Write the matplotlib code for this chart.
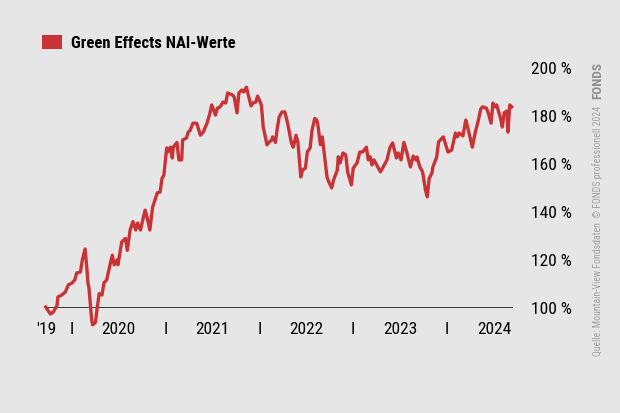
import matplotlib
matplotlib.use("Agg")
import matplotlib.pyplot as plt
from matplotlib.patches import Patch
from matplotlib import font_manager

# ------------------------------
# DATA
# ------------------------------

dates = [
    2019.72, 2019.77, 2019.80, 2019.84, 2019.85, 2019.89, 2019.93, 2019.96,
    2020.00, 2020.03, 2020.05, 2020.09, 2020.11, 2020.14, 2020.16, 2020.17,
    2020.18, 2020.21, 2020.22, 2020.25, 2020.27, 2020.29, 2020.32, 2020.34,
    2020.37, 2020.41, 2020.43, 2020.45, 2020.48, 2020.49, 2020.53, 2020.57,
    2020.59, 2020.62, 2020.65, 2020.68, 2020.70, 2020.73, 2020.78, 2020.80,
    2020.83, 2020.86, 2020.91, 2020.94, 2020.96, 2020.98, 2021.01, 2021.02,
    2021.05, 2021.07, 2021.08, 2021.12, 2021.14, 2021.17, 2021.18, 2021.22,
    2021.24, 2021.26, 2021.29, 2021.33, 2021.37, 2021.40, 2021.44, 2021.47,
    2021.49, 2021.53, 2021.55, 2021.58, 2021.61, 2021.64, 2021.66, 2021.71,
    2021.73, 2021.76, 2021.78, 2021.81, 2021.83, 2021.86, 2021.88, 2021.91,
    2021.93, 2021.96, 2021.98, 2022.02, 2022.04, 2022.08, 2022.10, 2022.13,
    2022.14, 2022.17, 2022.19, 2022.21, 2022.24, 2022.27, 2022.30, 2022.34,
    2022.36, 2022.39, 2022.41, 2022.44, 2022.46, 2022.49, 2022.51, 2022.54,
    2022.56, 2022.59, 2022.61, 2022.62, 2022.65, 2022.67, 2022.68, 2022.72,
    2022.74, 2022.77, 2022.79, 2022.83, 2022.84, 2022.86, 2022.89, 2022.92,
    2022.94, 2022.98, 2023.00, 2023.04, 2023.07, 2023.10, 2023.14, 2023.16,
    2023.18, 2023.20, 2023.22, 2023.25, 2023.29, 2023.32, 2023.36, 2023.39,
    2023.42, 2023.46, 2023.48, 2023.51, 2023.54, 2023.57, 2023.61, 2023.64,
    2023.67, 2023.68, 2023.71, 2023.74, 2023.77, 2023.79, 2023.81, 2023.84,
    2023.85, 2023.89, 2023.91, 2023.96, 2023.98, 2024.01, 2024.05, 2024.09,
    2024.11, 2024.13, 2024.17, 2024.20, 2024.22, 2024.27, 2024.30, 2024.33,
    2024.36, 2024.38, 2024.42, 2024.44, 2024.47, 2024.49, 2024.51, 2024.53,
    2024.57, 2024.59, 2024.61, 2024.64, 2024.65, 2024.67, 2024.69,
]

nai_values = [
    100.4, 97.5, 98.3, 101.0, 104.6, 105.4, 106.7, 109.6,
    110.4, 111.7, 114.6, 115.0, 120.0, 124.6, 115.8, 110.4,
    108.7, 95.0, 93.0, 94.0, 100.4, 106.0, 105.4, 110.4,
    111.7, 118.8, 122.0, 118.0, 120.0, 118.0, 127.5, 129.0,
    124.0, 132.5, 136.0, 132.5, 135.4, 132.5, 140.8, 137.9,
    132.5, 142.0, 148.0, 148.3, 154.0, 155.4, 166.7, 165.0,
    167.0, 162.5, 167.0, 169.0, 161.7, 161.7, 170.0, 170.8,
    173.3, 174.0, 177.0, 177.0, 172.0, 173.3, 177.0, 181.0,
    184.6, 180.4, 183.3, 183.8, 185.8, 185.4, 189.6, 188.8,
    188.0, 181.3, 189.6, 190.8, 190.0, 192.0, 188.8, 184.2,
    185.4, 185.8, 188.3, 184.6, 175.4, 168.0, 169.0, 170.0,
    171.3, 169.0, 175.0, 179.6, 181.7, 181.7, 177.0, 168.8,
    167.0, 172.0, 169.0, 154.6, 157.5, 158.3, 165.0, 166.7,
    174.0, 179.0, 178.3, 177.0, 168.0, 171.3, 168.0, 154.6,
    152.5, 150.0, 153.3, 157.5, 163.0, 160.4, 164.6, 163.8,
    156.7, 151.3, 158.3, 160.4, 165.0, 165.0, 167.0, 161.7,
    163.0, 159.6, 161.7, 159.6, 156.7, 158.8, 161.7, 166.7,
    168.8, 162.5, 164.6, 161.7, 169.0, 165.0, 158.8, 163.3,
    161.7, 162.9, 158.8, 156.7, 149.2, 146.3, 154.0, 156.3,
    158.8, 162.9, 169.2, 171.3, 168.8, 165.0, 165.8, 172.9,
    171.3, 172.9, 171.7, 178.3, 175.4, 167.0, 172.9, 177.5,
    182.9, 183.8, 183.3, 181.3, 177.0, 185.4, 183.8, 184.6,
    179.2, 175.4, 181.3, 182.1, 173.3, 184.6, 183.8,
]

x_tick_pos = [2019.73, 2020.0, 2020.5, 2021.0, 2021.5, 2022.0, 2022.5,
              2023.0, 2023.5, 2024.0, 2024.5]
x_tick_labels = ["'19", "I", "2020", "I", "2021", "I", "2022",
                 "I", "2023", "I", "2024"]
y_ticks = [100, 120, 140, 160, 180, 200]
y_tick_labels = [f"{v} %" for v in y_ticks]

# ------------------------------
# FONT (condensed, if available)
# ------------------------------

names = {f.name for f in font_manager.fontManager.ttflist}
narrow = "DejaVu Sans"
for cand in ["Roboto Condensed", "Barlow Semi Condensed", "Barlow Condensed",
             "Asap Condensed", "Archivo Narrow", "Liberation Sans Narrow"]:
    if cand in names:
        narrow = cand
        break
plt.rcParams["font.family"] = [narrow, "DejaVu Sans"]

BG = "#e6e6e6"
RED = "#c93336"

# ------------------------------
# PLOT
# ------------------------------

fig = plt.figure(figsize=(6.2, 4.13), dpi=100, facecolor=BG)
ax = fig.add_axes([45 / 620, 1 - 308 / 413, 468 / 620, 240 / 413], facecolor=BG)

ax.plot(dates, nai_values, color=RED, lw=2.4, clip_on=False, zorder=3,
        solid_joinstyle="round")
ax.axhline(100, color="#1a1a1a", lw=1.2, zorder=2)

ax.set_xlim(2019.712, 2024.704)
ax.set_ylim(100, 200)

for s in ax.spines.values():
    s.set_visible(False)

ax.yaxis.tick_right()
ax.set_yticks(y_ticks)
ax.set_yticklabels(y_tick_labels)
ax.tick_params(axis="y", length=0, pad=13, labelsize=12.5, labelcolor="#000000")
ax.set_xticks(x_tick_pos)
ax.set_xticklabels(x_tick_labels)
ax.tick_params(axis="x", length=0, pad=10, labelsize=12.5, labelcolor="#000000")

# legend
handle = Patch(facecolor=RED, edgecolor="none")
fig.legend([handle], ["Green Effects NAI-Werte"], loc="upper left",
           bbox_to_anchor=(42 / 620, 1 - 35 / 413), frameon=False,
           handlelength=1.2, handleheight=0.9, handletextpad=0.55,
           borderpad=0, borderaxespad=0,
           prop={"size": 12, "weight": "bold", "family": [narrow, "DejaVu Sans"]})

# source / logo
fig.text(598 / 620, 1 - 356 / 413,
         "Quelle: Mountain-View Fondsdaten  \u00a9 FONDS professionell 2024",
         rotation=90, ha="center", va="bottom", fontsize=7, color="#a0a0a0")
fig.text(598 / 620, 1 - 62 / 413, "FONDS", rotation=90, ha="center", va="top",
         fontsize=9.5, weight="bold", color="#8e8e8e")

fig.savefig("out.png", dpi=100, facecolor=BG)
